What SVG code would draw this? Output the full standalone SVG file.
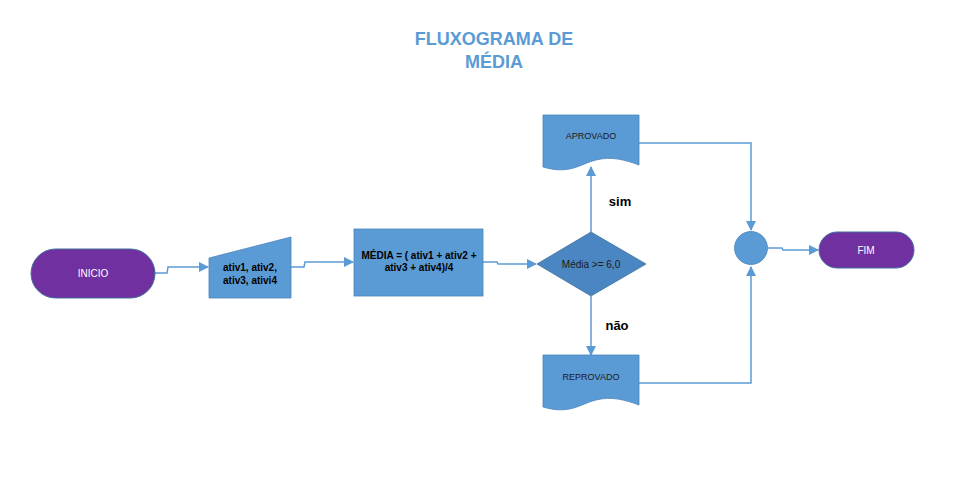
<svg xmlns="http://www.w3.org/2000/svg" width="958" height="488" viewBox="0 0 958 488">
<defs>
<marker id="arr" markerWidth="10" markerHeight="10" refX="9" refY="5" orient="auto" markerUnits="userSpaceOnUse">
<path d="M0,0 L10,5 L0,10 Z" fill="#5B9BD5"/>
</marker>
<style>
.t{font-family:"Liberation Sans",Arial,sans-serif;}
.term{fill:#7030A0;stroke:#41719C;stroke-width:1;}
.blue{fill:#5B9BD5;stroke:#4a84bb;stroke-width:0.8;}
.con{fill:none;stroke:#5B9BD5;stroke-width:1.5;}
</style>
</defs>
<rect width="958" height="488" fill="#ffffff"/>
<g id="title" class="t" font-weight="bold" font-size="18" fill="#5B9BD5" text-anchor="middle">
<text x="494" y="45">FLUXOGRAMA DE</text>
<text x="494" y="68">MÉDIA</text>
</g>
<g id="connectors">
<path class="con" d="M155,273 L167,273 L168,267 L208,267" marker-end="url(#arr)"/>
<path class="con" d="M291,267 L304,267 L305,262 L353,262" marker-end="url(#arr)"/>
<path class="con" d="M483,262 L497,262 L498,264 L536,264" marker-end="url(#arr)"/>
<path class="con" d="M591,232 L591,167" marker-end="url(#arr)"/>
<path class="con" d="M591,296 L591,355" marker-end="url(#arr)"/>
<path class="con" d="M639,143 L751,143 L751,230" marker-end="url(#arr)"/>
<path class="con" d="M639,383 L751,383 L751,267" marker-end="url(#arr)"/>
<path class="con" d="M768,248 L782,248 L783,250 L818,250" marker-end="url(#arr)"/>
</g>
<g id="inicio">
<rect class="term" x="31" y="249" width="124" height="49" rx="24.5"/>
<text class="t" x="93" y="277" font-size="10" fill="#ffffff" text-anchor="middle">INICIO</text>
</g>
<g id="entrada">
<path class="blue" d="M209,258 L291,237 L291,298 L209,298 Z"/>
<text class="t" x="250" y="271" font-size="10" font-weight="bold" fill="#000" text-anchor="middle">ativ1, ativ2,</text>
<text class="t" x="250" y="284" font-size="10" font-weight="bold" fill="#000" text-anchor="middle">ativ3, ativi4</text>
</g>
<g id="calculo">
<rect class="blue" x="354" y="229" width="129" height="67"/>
<text class="t" x="419" y="259" font-size="10" font-weight="bold" fill="#000" text-anchor="middle">MÉDIA = ( ativ1 + ativ2 +</text>
<text class="t" x="419" y="271" font-size="10" font-weight="bold" fill="#000" text-anchor="middle">ativ3 + ativ4)/4</text>
</g>
<g id="decisao">
<path d="M591,232 L646,264 L591,296 L537,264 Z" fill="#4A86C1" stroke="#41719C" stroke-width="0.8"/>
<text class="t" x="591" y="268" font-size="10" fill="#1a1a1a" text-anchor="middle">Média &gt;= 6,0</text>
</g>
<g id="aprovado">
<path class="blue" d="M543,115 L639,115 L639,165 C625,160 612,156 596,160 C580,164 570,175 543,167 Z"/>
<text class="t" x="591" y="139" font-size="9" fill="#1a1a1a" text-anchor="middle">APROVADO</text>
</g>
<g id="reprovado">
<path class="blue" d="M543,355 L639,355 L639,405 C625,400 612,396 596,400 C580,404 570,415 543,407 Z"/>
<text class="t" x="591" y="380" font-size="9" fill="#1a1a1a" text-anchor="middle">REPROVADO</text>
</g>
<g id="juncao">
<circle cx="751" cy="248" r="16.5" fill="#5B9BD5" stroke="#4a84bb" stroke-width="0.8"/>
</g>
<g id="fim">
<rect class="term" x="819" y="232" width="95" height="36" rx="18"/>
<text class="t" x="866" y="254" font-size="10" fill="#ffffff" text-anchor="middle">FIM</text>
</g>
<g id="labels" class="t" font-weight="bold" font-size="13" fill="#000">
<text x="620" y="206" text-anchor="middle">sim</text>
<text x="617" y="330" text-anchor="middle">não</text>
</g>
</svg>
